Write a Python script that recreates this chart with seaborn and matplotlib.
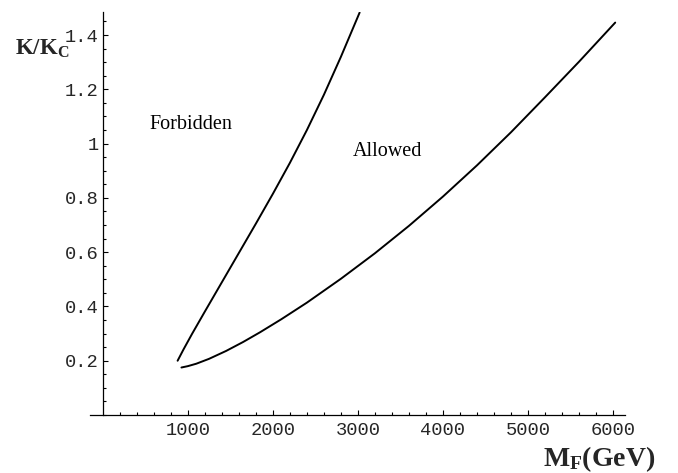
import numpy as np
import pandas as pd
import matplotlib
matplotlib.use("Agg")
import matplotlib.pyplot as plt
from matplotlib.ticker import FixedLocator, FixedFormatter, MultipleLocator
import seaborn as sns

# Boundary curves in the (M_F, K/K_c) plane
m_upper = [880, 950, 1050, 1200, 1400, 1600, 1800, 2000, 2200, 2400, 2600, 2800, 3020]
k_upper = [0.200, 0.242, 0.299, 0.381, 0.489, 0.597, 0.705, 0.815, 0.929, 1.050, 1.180, 1.320, 1.483]

m_lower = [925, 1000, 1100, 1250, 1450, 1650, 1850, 2100, 2400, 2800, 3200, 3600, 4000,
           4400, 4800, 5200, 5600, 6025]
k_lower = [0.175, 0.180, 0.189, 0.207, 0.236, 0.269, 0.305, 0.353, 0.414, 0.502, 0.596,
           0.697, 0.805, 0.920, 1.042, 1.171, 1.302, 1.446]

x_ticks = [1000, 2000, 3000, 4000, 5000, 6000]
x_tick_labels = ["1000", "2000", "3000", "4000", "5000", "6000"]
y_ticks = [0.2, 0.4, 0.6, 0.8, 1.0, 1.2, 1.4]
y_tick_labels = ["0.2", "0.4", "0.6", "0.8", "1", "1.2", "1.4"]

region_labels = ["Forbidden", "Allowed"]
region_pos = [(553, 1.054), (2941, 0.955)]

sns.set_style("white")
plt.rcParams["mathtext.fontset"] = "custom"
plt.rcParams["mathtext.rm"] = "Liberation Serif"
plt.rcParams["mathtext.bf"] = "Liberation Serif:bold"
plt.rcParams["font.family"] = ["DejaVu Sans"]

fig = plt.figure(figsize=(6.78, 4.73), dpi=100)
ax = fig.add_axes([90 / 678, 58 / 473, 535 / 678, 403 / 473])

upper = pd.DataFrame({"M": m_upper, "K": k_upper})
lower = pd.DataFrame({"M": m_lower, "K": k_lower})
sns.lineplot(data=upper, x="M", y="K", sort=False, estimator=None,
             color="black", lw=1.4, ax=ax)
sns.lineplot(data=lower, x="M", y="K", sort=False, estimator=None,
             color="black", lw=1.4, ax=ax)

ax.set_xlim(-150, 6140)
ax.set_ylim(0, 1.485)

# Axes cross at the origin
for side in ("top", "right"):
    ax.spines[side].set_visible(False)
ax.spines["left"].set_position(("data", 0))
for side in ("left", "bottom"):
    ax.spines[side].set_color("black")
    ax.spines[side].set_linewidth(0.9)

ax.xaxis.set_major_locator(FixedLocator(x_ticks))
ax.xaxis.set_major_formatter(FixedFormatter(x_tick_labels))
ax.xaxis.set_minor_locator(FixedLocator(list(range(200, 6001, 200))))
ax.yaxis.set_major_locator(FixedLocator(y_ticks))
ax.yaxis.set_major_formatter(FixedFormatter(y_tick_labels))
ax.yaxis.set_minor_locator(MultipleLocator(0.05))

ax.tick_params(which="both", direction="in", color="black", width=0.8,
               bottom=True, left=True)
ax.tick_params(which="major", length=3.5)
ax.tick_params(which="minor", length=2)
ax.tick_params(axis="x", pad=5)
ax.tick_params(axis="y", pad=3)
for lab in ax.get_xticklabels() + ax.get_yticklabels():
    lab.set_fontfamily("Liberation Mono")
    lab.set_fontsize(13.5)

ax.set_xlabel("")
ax.set_ylabel("")

# Axis titles
fig.text(15 / 678, 1 - 55 / 473, r"$\mathbf{K/K_C}$", fontsize=16.5,
         ha="left", va="baseline")
fig.text(655 / 678, 1 - 466 / 473, r"$\mathbf{M_F(GeV)}$", fontsize=20,
         ha="right", va="baseline")

# Region labels
for text, (xp, yp) in zip(region_labels, region_pos):
    ax.text(xp, yp, text, fontfamily="Liberation Serif", fontsize=14.5,
            ha="left", va="baseline", color="black")

fig.savefig("out.png", dpi=100)
